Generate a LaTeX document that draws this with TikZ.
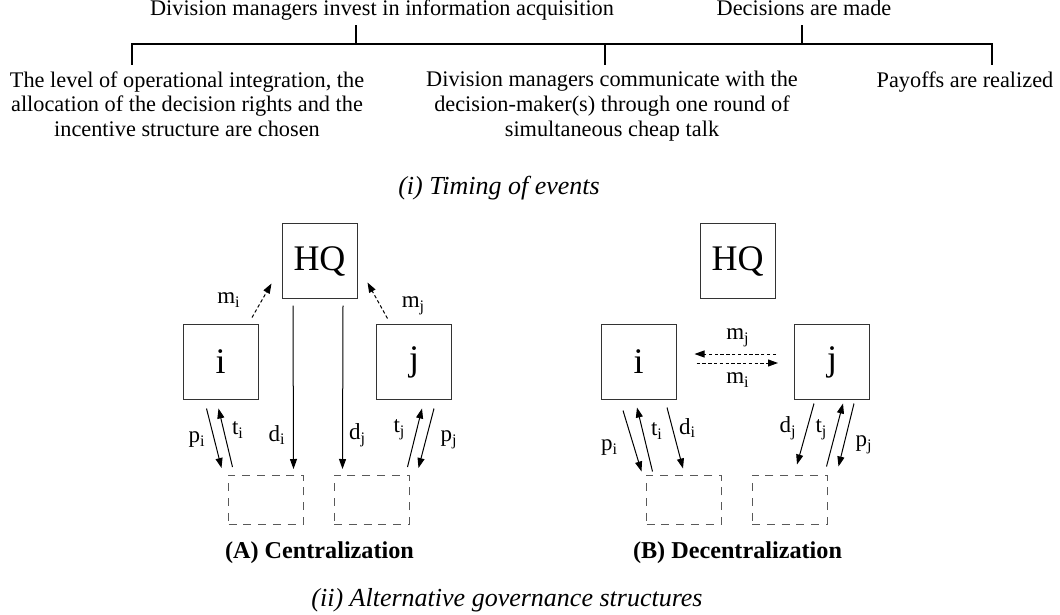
\documentclass[tikz,border=0pt]{standalone}
\usepackage{fontspec}
\setmainfont{Liberation Serif}
\usetikzlibrary{arrows.meta,calc}

\tikzset{
  unit/.style={draw=black!80, line width=0.5pt, minimum width=37.5pt, minimum height=37.5pt, inner sep=0pt, font=\fontsize{18}{20}\selectfont},
  outcome/.style={draw=black!65, line width=0.5pt, dash pattern=on 4pt off 3.4pt, minimum width=37.5pt, minimum height=24.5pt, inner sep=0pt},
  flow/.style={->, line width=0.5pt},
  talk/.style={->, line width=0.5pt, dash pattern=on 1.7pt off 1.2pt},
  lbl/.style={inner sep=0pt, font=\fontsize{11.5}{13}\selectfont},
  event/.style={inner sep=0pt, align=center, font=\fontsize{11.15}{12.35}\selectfont},
  axis/.style={line width=1pt},
  caption/.style={inner sep=0pt, font=\fontsize{13}{15}\selectfont\itshape},
  panel/.style={inner sep=0pt, font=\fontsize{12.1}{14}\selectfont\bfseries},
}

\begin{document}
\begin{tikzpicture}[x=0.5pt, y=-0.5pt, >={Triangle[length=5pt,width=3.5pt]}]
\useasboundingbox (0,0) rectangle (1060,615);

% timeline
\draw[axis] (132,65) -- (132,44.5) -- (992,44.5) -- (992,65);
\draw[axis] (356,44.5) -- (356,25);
\draw[axis] (802,44.5) -- (802,25);
\draw[axis] (605,44.5) -- (605,65);
\node[event, anchor=base] (invest) at (382,16) {Division managers invest in information acquisition};
\node[event, anchor=base] (decide) at (804,16) {Decisions are made};
\node[event, anchor=north] (design) at (187,71) {The level of operational integration, the\\allocation of the decision rights and the\\incentive structure are chosen};
\node[event, anchor=north] (talk) at (612,71) {Division managers communicate with the\\decision-maker(s) through one round of\\simultaneous cheap talk};
\node[event, anchor=north] (payoff) at (965,71) {Payoffs are realized};
\node[caption] (timing) at (499,188) {(i) Timing of events};

% centralization
\begin{scope}[shift={(319.5,0)}, name prefix=A-]
\node[unit] (hq) at (0,261) {HQ};
\node[unit] (i) at (-99,362) {i};
\node[unit] (j) at (94.5,362) {j};
\node[outcome] (oi) at (-53.5,499.5) {};
\node[outcome] (oj) at (52,499.5) {};
\draw[talk] ($(i.north east)+(-6.5,-6.5)$) -- ($(hq.south west)+(-10,-15.5)$);
\draw[talk] ($(j.north west)+(11.5,-5.5)$) -- ($(hq.south east)+(10,-16.5)$);
\draw[flow] ($(i.south)+(-14,8.5)$) -- ($(oi.north west)+(-6.5,-6.5)$);
\draw[flow] ($(oi.north west)+(4.5,-7.5)$) -- ($(i.south)+(-2,8.5)$);
\draw[flow] ($(hq.south)+(-26.5,6.5)$) -- ($(oi.north east)+(-10.5,-5.5)$);
\draw[flow] ($(hq.south)+(23.5,6.5)$) -- ($(oj.north west)+(9,-5.5)$);
\draw[flow] ($(oj.north east)+(-2,-7.5)$) -- ($(j.south)+(8,8.5)$);
\draw[flow] ($(j.south)+(20,8.5)$) -- ($(oj.north east)+(9,-6.5)$);
\node[lbl] (mi) at (-90.5,300) {m\textsubscript{i}};
\node[lbl] (mj) at (94,306) {m\textsubscript{j}};
\node[lbl] (pi) at (-122.5,440) {p\textsubscript{i}};
\node[lbl] (ti) at (-81.5,430) {t\textsubscript{i}};
\node[lbl] (di) at (-42.5,435) {d\textsubscript{i}};
\node[lbl] (dj) at (38,435) {d\textsubscript{j}};
\node[lbl] (tj) at (80,430) {t\textsubscript{j}};
\node[lbl] (pj) at (129.5,440) {p\textsubscript{j}};
\node[panel] (title) at (0,553) {(A) Centralization};
\end{scope}

% decentralization
\begin{scope}[shift={(737.5,0)}, name prefix=B-]
\node[unit] (hq) at (0,261) {HQ};
\node[unit] (i) at (-99,362) {i};
\node[unit] (j) at (94.5,362) {j};
\node[outcome] (oi) at (-53.5,499.5) {};
\node[outcome] (oj) at (52,499.5) {};
\draw[talk] ($(j.west)+(-18,-8)$) -- ($(i.east)+(18,-8)$);
\draw[talk] ($(i.east)+(20,1)$) -- ($(j.west)+(-16,1)$);
\draw[flow] ($(i.south)+(-15.5,10.5)$) -- ($(oi.north west)+(-4.5,-3)$);
\draw[flow] ($(oi.north west)+(6.5,-3)$) -- ($(i.south)+(-1.5,7.5)$);
\draw[flow] ($(i.south)+(28.5,7.5)$) -- ($(oi.north)+(-1,-6)$);
\draw[flow] ($(j.south)+(-18,3.5)$) -- ($(oj.north)+(7.5,-10)$);
\draw[flow] ($(oj.north east)+(-1,-8)$) -- ($(j.south)+(11,3.5)$);
\draw[flow] ($(j.south)+(22,3.5)$) -- ($(oj.north east)+(11,-8)$);
\node[lbl] (mj) at (0.5,338) {m\textsubscript{j}};
\node[lbl] (mi) at (0.5,380) {m\textsubscript{i}};
\node[lbl] (pi) at (-128,448) {p\textsubscript{i}};
\node[lbl] (ti) at (-80.5,431) {t\textsubscript{i}};
\node[lbl] (di) at (-50,428) {d\textsubscript{i}};
\node[lbl] (dj) at (50.5,428) {d\textsubscript{j}};
\node[lbl] (tj) at (84,430) {t\textsubscript{j}};
\node[lbl] (pj) at (126.5,445) {p\textsubscript{j}};
\node[panel] (title) at (0,553) {(B) Decentralization};
\end{scope}

\node[caption] (governance) at (507,600) {(ii) Alternative governance structures};
\end{tikzpicture}
\end{document}
